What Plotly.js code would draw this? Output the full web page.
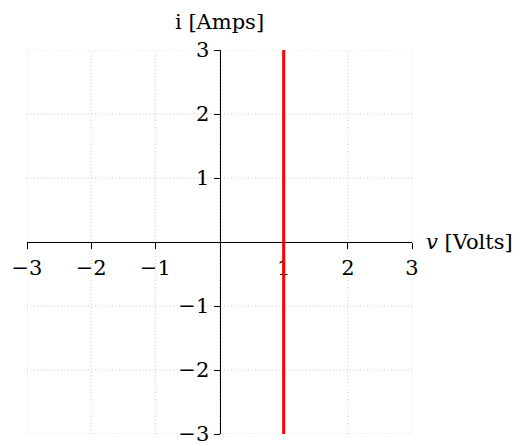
<!DOCTYPE html>
<html>
<head>
<meta charset="utf-8">
<script src="https://cdn.plot.ly/plotly-3.0.1.min.js"></script>
<style>html,body{margin:0;padding:0;background:#fff;}</style>
</head>
<body>
<div id="chart" style="width:524px;height:446px;"></div>
<script>
// i-v characteristic of an ideal 1 V voltage source
const voltage = [1, 1];
const current = [-3, 3];

const xTicks = [-3, -2, -1, 1, 2, 3];
const xTickText = ['−3', '−2', '−1', '1', '2', '3'];
const yTicks = [-3, -2, -1, 1, 2, 3];
const yTickText = ['−3', '−2', '−1', '1', '2', '3'];
const gridVals = [-3, -2, -1, 0, 1, 2, 3];

const serif = 'DejaVu Serif, Liberation Serif, serif';
const fontSize = 21;

const trace = {
  x: voltage,
  y: current,
  mode: 'lines',
  line: {color: '#ff0000', width: 3},
  hoverinfo: 'skip',
  showlegend: false
};

const axisCommon = {
  range: [-3, 3],
  showgrid: false,
  zeroline: false,
  showline: true,
  linecolor: '#000',
  linewidth: 1.3,
  ticks: 'outside',
  ticklen: 6,
  tickwidth: 1,
  tickcolor: '#000',
  tickfont: {family: serif, size: fontSize, color: '#000'},
  ticklabeloverflow: 'allow',
  anchor: 'free',
  position: 0.5,
  layer: 'below traces',
  fixedrange: true
};

// fine dotted grid, one line per integer step across the full frame
const gridLine = {color: '#c8c8c8', width: 1, dash: '1px,2.4px'};
const gridShapes = [].concat(
  gridVals.map(v => ({
    type: 'line', layer: 'below', xref: 'x', yref: 'paper',
    x0: v, x1: v, y0: 0, y1: 1, line: gridLine
  })),
  gridVals.map(v => ({
    type: 'line', layer: 'below', xref: 'paper', yref: 'y',
    x0: 0, x1: 1, y0: v, y1: v, line: gridLine
  }))
);

const layout = {
  width: 524,
  height: 446,
  margin: {l: 27, r: 112, t: 50, b: 12},
  paper_bgcolor: '#fff',
  plot_bgcolor: '#fff',
  xaxis: Object.assign({}, axisCommon, {
    tickmode: 'array', tickvals: xTicks, ticktext: xTickText
  }),
  yaxis: Object.assign({}, axisCommon, {
    tickmode: 'array', tickvals: yTicks, ticktext: yTickText
  }),
  shapes: gridShapes,
  annotations: [
    {
      text: 'i [Amps]',
      xref: 'x', yref: 'paper', x: 0, y: 1,
      xanchor: 'center', yanchor: 'bottom', yshift: 14,
      showarrow: false,
      font: {family: serif, size: fontSize, color: '#000'}
    },
    {
      text: '<i>v</i> [Volts]',
      xref: 'paper', yref: 'y', x: 1, y: 0,
      xanchor: 'left', yanchor: 'middle', xshift: 12,
      showarrow: false,
      font: {family: serif, size: fontSize, color: '#000'}
    }
  ]
};

Plotly.newPlot('chart', [trace], layout, {displayModeBar: false, staticPlot: true});
</script>
</body>
</html>
